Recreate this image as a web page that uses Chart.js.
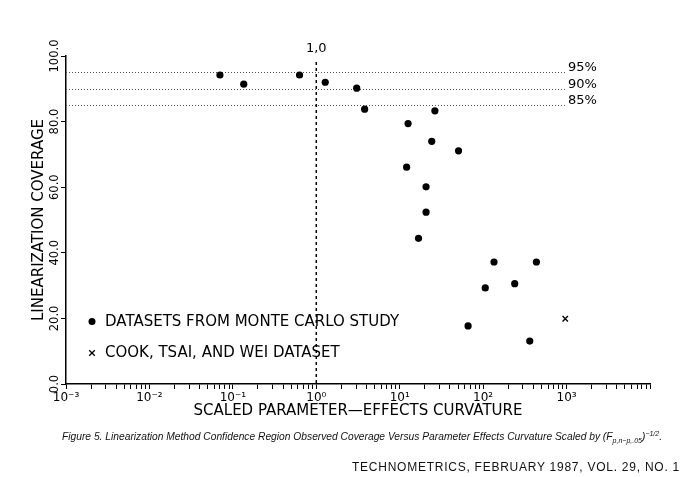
<!DOCTYPE html>
<html>
<head>
<meta charset="utf-8">
<script src="https://cdn.jsdelivr.net/npm/chart.js@4.4.1/dist/chart.umd.min.js"></script>
<style>
  body { margin: 0; background: #fff; }
  #wrap { position: relative; width: 684px; height: 477px; overflow: hidden; }
  #chart { position: absolute; left: 0; top: 0; }
  .caption {
    position: absolute; left: 62px; top: 430px;
    font: italic 10.25px "Liberation Sans", Arial, sans-serif;
    white-space: nowrap; color: #111;
  }
  .caption sub, .caption sup { font-size: 7px; }
  .journal {
    position: absolute; left: 352px; top: 460px;
    font: 12px "Liberation Sans", Arial, sans-serif;
    letter-spacing: 0.75px; white-space: nowrap; color: #111;
  }
</style>
</head>
<body>
<div id="wrap">
  <canvas id="chart" width="684" height="477"></canvas>
  <div class="caption">Figure 5. Linearization Method Confidence Region Observed Coverage Versus Parameter Effects Curvature Scaled by (<i>F</i><sub>p,n−p,.05</sub>)<sup>−1/2</sup>.</div>
  <div class="journal">TECHNOMETRICS, FEBRUARY 1987, VOL. 29, NO. 1</div>
</div>
<script>
// values
const monteCarloCurvature = [0.07, 0.135, 0.63, 1.28, 3.05, 3.8, 12.6, 26.4, 24.2, 50.7, 12.1, 20.7, 20.7, 16.8, 135, 435, 106, 239, 66, 362];
const monteCarloCoverage = [94.2, 91.4, 94.2, 92.0, 90.2, 83.8, 79.4, 83.3, 74.0, 71.1, 66.1, 60.1, 52.4, 44.4, 37.2, 37.2, 29.3, 30.6, 17.7, 13.1];
const cookCurvature = [964];
const cookCoverage = [19.9];

const coverageLevels = [95, 90, 85];
const coverageLabels = ['95%', '90%', '85%'];

const xDecades = [0.001, 0.01, 0.1, 1, 10, 100, 1000, 10000];
const xDecadeLabels = ['10⁻³', '10⁻²', '10⁻¹', '10⁰', '10¹', '10²', '10³', ''];
const xMinorSteps = [2, 3, 4, 5, 6, 7, 8, 9];
const yTicks = [0, 20, 40, 60, 80, 100];

const legendLabels = ['DATASETS FROM MONTE CARLO STUDY', 'COOK, TSAI, AND WEI DATASET'];

const FONT = 'DejaVu Sans';

function buildXTicks() {
    const ticks = [];
    xDecades.forEach((d, i) => {
        ticks.push({ value: d, major: true });
        if (i < xDecades.length - 1) {
            xMinorSteps.forEach(s => ticks.push({ value: s * d, major: false }));
        }
    });
    return ticks;
}

const overlayPlugin = {
    id: 'overlay',
    beforeDatasetsDraw(chart) {
        const { ctx, chartArea, scales: { x, y } } = chart;
        ctx.save();
        // coverage levels
        ctx.strokeStyle = '#555';
        ctx.lineWidth = 1;
        ctx.setLineDash([1, 2]);
        coverageLevels.forEach(lvl => {
            const py = Math.round(y.getPixelForValue(lvl)) + 0.5;
            ctx.beginPath();
            ctx.moveTo(chartArea.left, py);
            ctx.lineTo(chartArea.right - 84, py);
            ctx.stroke();
        });
        // curvature = 1
        const px = x.getPixelForValue(1);
        ctx.strokeStyle = '#000';
        ctx.lineWidth = 1.5;
        ctx.setLineDash([3, 3]);
        ctx.beginPath();
        ctx.moveTo(px, chartArea.top + 6);
        ctx.lineTo(px, chartArea.bottom);
        ctx.stroke();
        ctx.restore();
    },
    afterDraw(chart) {
        const { ctx, chartArea, scales: { x, y } } = chart;
        ctx.save();
        ctx.fillStyle = '#000';
        ctx.strokeStyle = '#000';

        ctx.font = '13px ' + FONT;
        ctx.textAlign = 'left';
        ctx.textBaseline = 'alphabetic';
        coverageLevels.forEach((lvl, i) => {
            ctx.fillText(coverageLabels[i], chartArea.right - 82, y.getPixelForValue(lvl) - 1);
        });

        ctx.font = '13px ' + FONT;
        ctx.textAlign = 'center';
        ctx.textBaseline = 'middle';
        ctx.fillText('1,0', x.getPixelForValue(1), chartArea.top - 7);

        // legend
        const lx = chartArea.left + 26;
        ctx.font = '15px ' + FONT;
        ctx.textAlign = 'left';
        ctx.beginPath();
        ctx.arc(lx, 321.5, 3.5, 0, Math.PI * 2);
        ctx.fill();
        ctx.fillText(legendLabels[0], lx + 13, 322);

        ctx.lineWidth = 1.3;
        const cy = 353, r = 2.8;
        ctx.beginPath();
        ctx.moveTo(lx - r, cy - r); ctx.lineTo(lx + r, cy + r);
        ctx.moveTo(lx + r, cy - r); ctx.lineTo(lx - r, cy + r);
        ctx.stroke();
        ctx.fillText(legendLabels[1], lx + 13, 353);
        ctx.restore();
    }
};

const ctx = document.getElementById('chart').getContext('2d');
new Chart(ctx, {
    type: 'scatter',
    data: {
        datasets: [
            {
                label: legendLabels[0],
                data: monteCarloCurvature.map((v, i) => ({ x: v, y: monteCarloCoverage[i] })),
                pointStyle: 'circle',
                pointRadius: 3.6,
                backgroundColor: '#000',
                borderColor: '#000',
                borderWidth: 0
            },
            {
                label: legendLabels[1],
                data: cookCurvature.map((v, i) => ({ x: v, y: cookCoverage[i] })),
                pointStyle: 'crossRot',
                pointRadius: 3.8,
                borderColor: '#000',
                borderWidth: 1.4
            }
        ]
    },
    options: {
        responsive: false,
        animation: false,
        layout: { padding: { left: 0, right: 34, top: 56, bottom: 56 } },
        plugins: {
            legend: { display: false },
            tooltip: { enabled: false }
        },
        scales: {
            x: {
                type: 'logarithmic',
                min: 0.001,
                max: 10000,
                afterBuildTicks: scale => { scale.ticks = buildXTicks(); },
                afterFit: scale => { scale.height = 37; },
                grid: { drawOnChartArea: false, drawTicks: true, tickLength: 5, color: '#000', lineWidth: 1 },
                border: { display: true, color: '#000', width: 1.5 },
                ticks: {
                    autoSkip: false,
                    maxRotation: 0,
                    minRotation: 0,
                    padding: 2,
                    color: '#000',
                    font: { family: FONT, size: 12 },
                    callback: v => {
                        const i = xDecades.indexOf(v);
                        return i >= 0 ? xDecadeLabels[i] : '';
                    }
                },
                title: {
                    display: true,
                    text: 'SCALED PARAMETER—EFFECTS CURVATURE',
                    color: '#000',
                    font: { family: FONT, size: 15 },
                    padding: { top: 0, bottom: 1 }
                }
            },
            y: {
                min: 0,
                max: 100,
                afterBuildTicks: scale => { scale.ticks = yTicks.map(v => ({ value: v })); },
                afterFit: scale => { scale.width = 66; },
                grid: { drawOnChartArea: false, drawTicks: true, tickLength: 5, color: '#000', lineWidth: 1 },
                border: { display: true, color: '#000', width: 1.5 },
                ticks: {
                    minRotation: 90,
                    maxRotation: 90,
                    crossAlign: 'center',
                    padding: -10,
                    color: '#000',
                    font: { family: FONT, size: 11.5 },
                    callback: v => v.toFixed(1)
                },
                title: {
                    display: true,
                    text: 'LINEARIZATION COVERAGE',
                    color: '#000',
                    font: { family: FONT, size: 15 },
                    padding: { top: 30.5, bottom: 0 }
                }
            }
        }
    },
    plugins: [overlayPlugin]
});
</script>
</body>
</html>
